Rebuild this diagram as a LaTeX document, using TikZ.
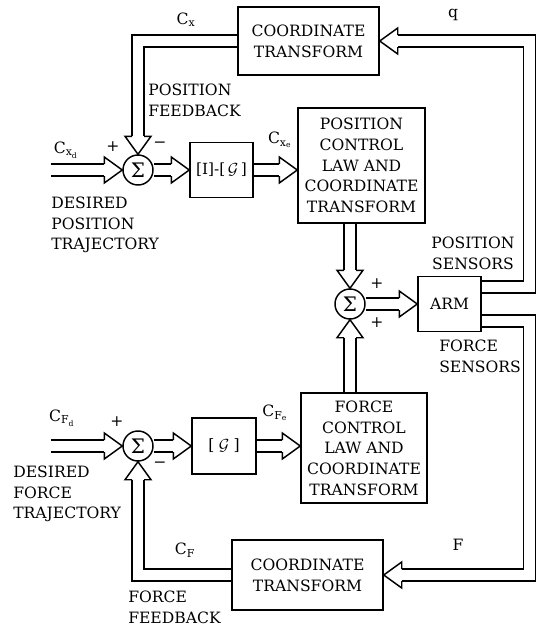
\documentclass[tikz,border=0pt]{standalone}
\usepackage{fontspec}
\setmainfont{DejaVu Serif}
\usetikzlibrary{calc}
\tikzset{
  box/.style={draw, line width=1.1pt, inner sep=0pt, align=center, font=\fontsize{11.7}{15.5}\selectfont},
  sumnode/.style={draw, circle, line width=1.1pt, minimum size=22.5pt, inner sep=0pt, font=\fontsize{15}{15}\selectfont},
  shaft/.style={draw, line width=1.1pt, double, double distance=7.9pt, shorten >=13.5pt, shorten <=0.5pt},
  lbl/.style={inner sep=0pt, align=left, font=\fontsize{11.7}{15.5}\selectfont},
  lblc/.style={inner sep=0pt, align=center, font=\fontsize{11.7}{15.5}\selectfont},
  hhead/.pic={\draw[line width=1.1pt, line join=miter] (-13.5pt,4.5pt) -- (-13.5pt,9.75pt) -- (0pt,0pt) -- (-13.5pt,-9.75pt) -- (-13.5pt,-4.5pt);}
}
\begin{document}
\begin{tikzpicture}[x=0.75pt,y=-0.75pt]
\useasboundingbox (0,0) rectangle (543,626);
% blocks
\node[box, minimum width=105.75pt, minimum height=51pt] (ct1) at (308.5,41) {COORDINATE\\TRANSFORM};
\node[sumnode] (sum1) at (138,170) {Σ};
\node[box, minimum width=47.25pt, minimum height=41.25pt, font=\fontsize{11.5}{14}\selectfont] (gi) at (221.5,170) {[I]-[\,$\mathcal{G}$\,]};
\node[box, minimum width=95.25pt, minimum height=86.25pt] (pcl) at (361.5,165.5) {POSITION\\CONTROL\\LAW AND\\COORDINATE\\TRANSFORM};
\node[sumnode] (sum2) at (350,304) {Σ};
\node[box, minimum width=47.25pt, minimum height=41.25pt] (arm) at (449.5,304) {ARM};
\node[box, minimum width=94.5pt, minimum height=82.5pt] (fcl) at (364,448) {FORCE\\CONTROL\\LAW AND\\COORDINATE\\TRANSFORM};
\node[sumnode] (sum3) at (138,446) {Σ};
\node[box, minimum width=48pt, minimum height=42pt] (g) at (224,446) {[\;$\mathcal{G}$\;]};
\node[box, minimum width=113.25pt, minimum height=52.5pt] (ct2) at (307.5,575) {COORDINATE\\TRANSFORM};
% free ends
\coordinate (inx) at (50,170);
\coordinate (inf) at (50,446);
\coordinate (ap) at ($(arm.east)+(0,-17)$);
\coordinate (af) at ($(arm.east)+(0,17)$);
% connectors
\draw[shaft] (inx) -- (sum1.west);
\pic at (sum1.west) {hhead};
\draw[shaft] (sum1.east) -- (gi.west);
\pic at (gi.west) {hhead};
\draw[shaft] (gi.east) -- (gi.east -| pcl.west);
\pic at (gi.east -| pcl.west) {hhead};
\draw[shaft] (ct1.west) -| (sum1.north);
\pic[rotate=-90] at (sum1.north) {hhead};
\draw[shaft] (sum2 |- pcl.south) -- (sum2.north);
\pic[rotate=-90] at (sum2.north) {hhead};
\draw[shaft] (sum2 |- fcl.north) -- (sum2.south);
\pic[rotate=90] at (sum2.south) {hhead};
\draw[shaft] (sum2.east) -- (arm.west);
\pic at (arm.west) {hhead};
\draw[shaft] (ap) -| ($(ct1.east)+(150,0)$) -- (ct1.east);
\pic[rotate=180] at (ct1.east) {hhead};
\draw[shaft] (af) -| ($(ct2.east)+(146,0)$) -- (ct2.east);
\pic[rotate=180] at (ct2.east) {hhead};
\draw[shaft] (ct2.west) -| (sum3.south);
\pic[rotate=90] at (sum3.south) {hhead};
\draw[shaft] (inf) -- (sum3.west);
\pic at (sum3.west) {hhead};
\draw[shaft] (sum3.east) -- (g.west);
\pic at (g.west) {hhead};
\draw[shaft] (g.east) -- (g.east -| fcl.west);
\pic at (g.east -| fcl.west) {hhead};
% labels
\node[lbl] (lcx) at (186,20) {C\textsubscript{x}};
\node[lbl] (lq) at (453,15) {q};
\node[lbl, anchor=west] (lpf) at (148,100) {POSITION\\FEEDBACK};
\node[lbl] (lcxd) at (66,150) {C\textsubscript{x\textsubscript{d}}};
\node[lbl] (p1) at (113,147) {+};
\node[lbl] (m1) at (160,145) {−};
\node[lbl, anchor=west] (ldpt) at (51,225) {DESIRED\\POSITION\\TRAJECTORY};
\node[lbl] (lcxe) at (280,140) {C\textsubscript{x\textsubscript{e}}};
\node[lblc] (lps) at (473,253) {POSITION\\SENSORS};
\node[lbl] (p2) at (377,284) {+};
\node[lbl] (p3) at (377,323) {+};
\node[lbl, anchor=west] (lfs) at (439,356) {FORCE\\SENSORS};
\node[lbl] (lcfd) at (62,418) {C\textsubscript{F\textsubscript{d}}};
\node[lbl] (p4) at (117,422) {+};
\node[lbl] (m2) at (160,465) {−};
\node[lbl, anchor=west] (ldft) at (13,494) {DESIRED\\FORCE\\TRAJECTORY};
\node[lbl] (lcfe) at (275,413) {C\textsubscript{F\textsubscript{e}}};
\node[lbl] (lcf) at (185,550) {C\textsubscript{F}};
\node[lbl, anchor=west] (lff) at (128,607) {FORCE\\FEEDBACK};
\node[lbl] (lf) at (458,545) {F};
\end{tikzpicture}
\end{document}
